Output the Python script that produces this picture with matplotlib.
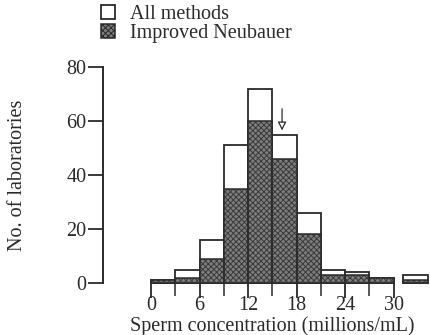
import matplotlib.pyplot as plt
from matplotlib.patches import Patch

plt.rcParams['font.family'] = ['Liberation Serif', 'DejaVu Serif']

# bins of 3 million/mL, starting at 0
bin_left = [0, 3, 6, 9, 12, 15, 18, 21, 24, 27]
all_methods = [1, 5, 16, 51, 72, 55, 26, 5, 4, 2]
neubauer = [1, 2, 9, 35, 60, 46, 18, 3, 3, 2]
# the ">30" group drawn apart to the right
over_left = 31.2
over_all = 3
over_neubauer = 1
arrow_x = 16.2

x_ticks = [0, 6, 12, 18, 24, 30]
y_ticks = [0, 20, 40, 60, 80]

INK = '#2a2a2a'
FILL = '#7e7e7e'
DOTS = '#3a3a3a'
FS = 14.5

fig = plt.figure(figsize=(4.3, 3.35), dpi=100)
ax = fig.add_axes([103 / 430, 52 / 335, 327 / 430, 216 / 335])

lefts = bin_left + [over_left]
alls = all_methods + [over_all]
nbs = neubauer + [over_neubauer]

# outer "all methods" bars
ax.bar(lefts, alls, width=3, align='edge', facecolor='white',
       edgecolor=INK, linewidth=1.3, clip_on=False, zorder=2)
# hatched improved neubauer bars (hatch first, outline on top)
plt.rcParams['hatch.linewidth'] = 0.7
ax.bar(lefts, nbs, width=3, align='edge', facecolor=FILL,
       edgecolor=DOTS, hatch='xxxxxx', linewidth=0, clip_on=False, zorder=3)
ax.bar(lefts, nbs, width=3, align='edge', facecolor='none',
       edgecolor=INK, linewidth=1.1, clip_on=False, zorder=4)

# arrow marking the median
ax.annotate('', xy=(arrow_x, 56.5), xytext=(arrow_x, 64.5),
            arrowprops=dict(arrowstyle='-|>,head_length=0.5,head_width=0.25',
                            fc='white', ec=INK, lw=0.9, shrinkA=0, shrinkB=0))

ax.set_xlim(-5.95, 34.5)
ax.set_ylim(0, 80)

for s in ['top', 'right']:
    ax.spines[s].set_visible(False)
ax.spines['left'].set_bounds(0, 80)
ax.spines['bottom'].set_bounds(0, 30)
for s in ['left', 'bottom']:
    ax.spines[s].set_linewidth(1.4)
    ax.spines[s].set_color(INK)

ax.set_xticks(x_ticks)
ax.set_xticks([3, 9, 15, 21, 27], minor=True)
ax.set_yticks(y_ticks)
ax.tick_params(axis='both', which='major', direction='out', length=11,
               width=1.3, color=INK, labelsize=FS, labelcolor=INK, pad=1)
ax.tick_params(axis='x', which='major', length=10.5, pad=-1.5)
ax.tick_params(axis='x', which='minor', direction='out', length=9,
               width=1.1, color=INK)

ax.set_xlabel('Sperm concentration (millions/mL)', fontsize=FS, color=INK)
ax.xaxis.set_label_coords((15 + 5.95) / 40.45, -0.224)
ax.xaxis.label.set_va('baseline')
ax.set_ylabel('No. of laboratories', fontsize=FS, color=INK)
ax.yaxis.set_label_coords(-0.232, 0.5)

handles = [Patch(facecolor='white', edgecolor=INK, linewidth=1.3),
           Patch(facecolor=FILL, edgecolor=INK, hatch='xxxxxx', linewidth=1.1)]
fig.legend(handles, ['All methods', 'Improved Neubauer'], loc='upper left',
           bbox_to_anchor=(101 / 430, 1 - 5 / 335), frameon=False,
           fontsize=FS, handlelength=0.7, handleheight=0.7,
           handletextpad=0.75, labelspacing=0.0, borderpad=0,
           borderaxespad=0, labelcolor=INK)

fig.savefig('out.png', dpi=100)
